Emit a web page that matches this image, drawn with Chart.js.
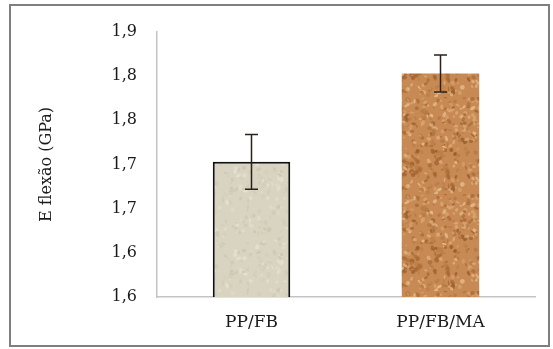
<!DOCTYPE html>
<html>
<head>
<meta charset="utf-8">
<script src="https://cdn.jsdelivr.net/npm/chart.js@4"></script>
<style>
  html, body { margin: 0; padding: 0; background: #fff; }
  #wrap { position: relative; width: 553px; height: 349px; }
</style>
</head>
<body>
<div id="wrap"><canvas id="graph" width="553" height="349"></canvas></div>
<script>
// values
const categories = ['PP/FB', 'PP/FB/MA'];
const modulus = [1.703, 1.803];
const modulusErr = [0.031, 0.021];
const tickValues = [1.55, 1.60, 1.65, 1.70, 1.75, 1.80, 1.85];
const tickLabels = ['1,6', '1,6', '1,7', '1,7', '1,8', '1,8', '1,9'];

// small deterministic speckle texture for the bars
function make_pattern(base, specks, size, count) {
  const c = document.createElement('canvas');
  c.width = size; c.height = size;
  const g = c.getContext('2d');
  g.fillStyle = base;
  g.fillRect(0, 0, size, size);
  let s = 11;
  const next = () => { s = (s * 16807) % 2147483647; return s / 2147483647; };
  for (let i = 0; i < count; i++) {
    g.fillStyle = specks[Math.floor(next() * specks.length)];
    g.globalAlpha = 0.5 + next() * 0.5;
    g.beginPath();
    g.ellipse(next() * size, next() * size, 0.8 + next() * 2.2, 0.8 + next() * 1.6, next() * 3, 0, Math.PI * 2);
    g.fill();
  }
  return g.createPattern(c, 'repeat');
}

const ctx = document.getElementById('graph').getContext('2d');
const corkFill = make_pattern('#c88a54', ['#a96a36', '#d9a673', '#b77a44', '#e2b889', '#9c5f2d'], 97, 420);
const paleFill = make_pattern('#d8d4c1', ['#cdc8b2', '#e2dfcf', '#d1cdb8'], 83, 160);

const frame = {
  id: 'frame',
  beforeDraw(chart) {
    const c = chart.ctx;
    c.save();
    c.fillStyle = '#ffffff';
    c.fillRect(0, 0, chart.width, chart.height);
    c.strokeStyle = '#7f7f7f';
    c.lineWidth = 2;
    c.strokeRect(10, 5, 539, 341);
    c.restore();
  }
};

const errorBars = {
  id: 'errorBars',
  afterDatasetsDraw(chart) {
    const c = chart.ctx;
    const meta = chart.getDatasetMeta(0);
    const y = chart.scales.y;
    c.save();
    c.strokeStyle = '#2a2218';
    c.lineWidth = 1.5;
    meta.data.forEach((bar, i) => {
      const top = y.getPixelForValue(modulus[i] + modulusErr[i]);
      const bot = y.getPixelForValue(modulus[i] - modulusErr[i]);
      c.beginPath();
      c.moveTo(bar.x, top); c.lineTo(bar.x, bot);
      c.moveTo(bar.x - 6.5, top); c.lineTo(bar.x + 6.5, top);
      c.moveTo(bar.x - 6.5, bot); c.lineTo(bar.x + 6.5, bot);
      c.stroke();
    });
    c.restore();
  }
};

new Chart(ctx, {
  type: 'bar',
  data: {
    labels: categories,
    datasets: [{
      data: modulus,
      backgroundColor: [paleFill, corkFill],
      borderColor: ['#111111', 'rgba(0,0,0,0)'],
      borderWidth: [2, 0],
      barPercentage: 0.41,
      categoryPercentage: 1
    }]
  },
  options: {
    responsive: false,
    animation: false,
    layout: { padding: { left: 0, right: 18, top: 32, bottom: 0 } },
    plugins: { legend: { display: false }, tooltip: { enabled: false } },
    scales: {
      x: {
        grid: { display: false, drawTicks: false },
        border: { color: '#c4c4c4', width: 1.5 },
        ticks: { color: '#1a1a1a', padding: 15, font: { family: 'DejaVu Serif', size: 17 } },
        afterFit: (s) => { s.height = 52; }
      },
      y: {
        min: 1.55,
        max: 1.85,
        afterBuildTicks: (s) => { s.ticks = tickValues.map(v => ({ value: v })); },
        grid: { display: false, drawTicks: false },
        border: { color: '#c4c4c4', width: 1.5 },
        ticks: {
          color: '#1a1a1a',
          padding: 20,
          font: { family: 'DejaVu Serif', size: 16 },
          callback: (v, i) => tickLabels[i]
        },
        title: {
          display: true,
          text: 'E flexão (GPa)',
          color: '#1a1a1a',
          font: { family: 'DejaVu Serif', size: 16 },
          padding: { top: 37, bottom: 0 }
        },
        afterFit: (s) => { s.width = 157; }
      }
    }
  },
  plugins: [frame, errorBars]
});
</script>
</body>
</html>
